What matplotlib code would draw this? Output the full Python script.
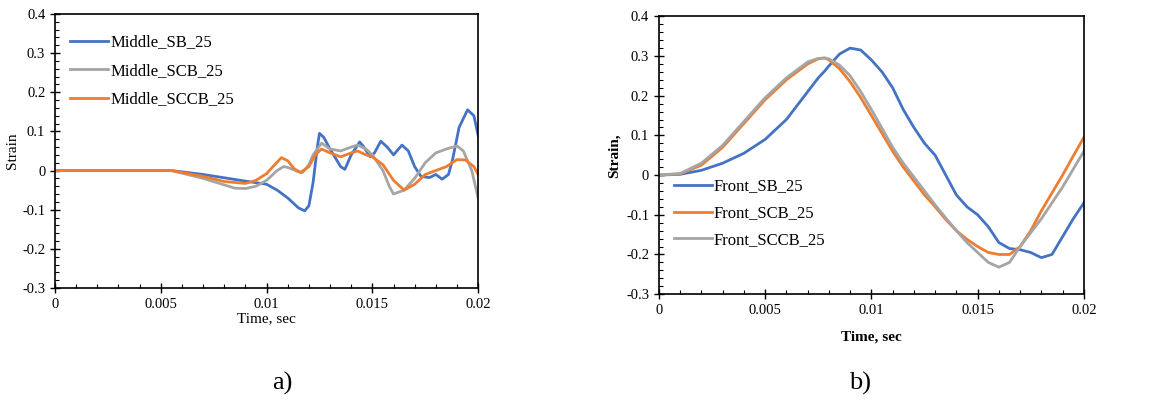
import matplotlib
matplotlib.use("Agg")
import matplotlib.pyplot as plt
from matplotlib.ticker import MultipleLocator

plt.rcParams['font.family'] = ['Liberation Serif', 'DejaVu Serif']

BLUE = '#4472C4'
ORANGE = '#ED7D31'
GRAY = '#A5A5A5'

# ---- panel a) middle strain ----
t_sb_m = [0, 0.0055, 0.007, 0.009, 0.010, 0.0105, 0.011, 0.0115, 0.0118, 0.012, 0.0122,
          0.0124, 0.0125, 0.0127, 0.013, 0.0135, 0.0137, 0.014, 0.0144, 0.0146, 0.0149,
          0.0151, 0.0154, 0.0157, 0.016, 0.0164, 0.0167, 0.017, 0.0173, 0.0177, 0.018,
          0.0183, 0.0186, 0.0188, 0.0191, 0.0195, 0.0198, 0.020]
v_sb_m = [0, 0, -0.01, -0.027, -0.035, -0.05, -0.07, -0.095, -0.103, -0.09, -0.03,
          0.06, 0.095, 0.085, 0.055, 0.01, 0.003, 0.04, 0.073, 0.06, 0.035,
          0.045, 0.075, 0.06, 0.04, 0.065, 0.05, 0.01, -0.015, -0.018, -0.01,
          -0.022, -0.01, 0.03, 0.11, 0.155, 0.14, 0.09]

t_scb_m = [0, 0.0055, 0.007, 0.0085, 0.009, 0.0095, 0.010, 0.0105, 0.0108, 0.011, 0.0115,
           0.0117, 0.012, 0.0122, 0.0126, 0.013, 0.0135, 0.014, 0.0143, 0.0147, 0.015,
           0.0155, 0.0158, 0.016, 0.0165, 0.017, 0.0175, 0.018, 0.0185, 0.019, 0.0193,
           0.0197, 0.020]
v_scb_m = [0, 0, -0.02, -0.045, -0.046, -0.04, -0.025, 0.0, 0.01, 0.008, -0.003,
           -0.005, 0.015, 0.04, 0.07, 0.055, 0.05, 0.06, 0.065, 0.055, 0.04,
           0.0, -0.04, -0.06, -0.05, -0.02, 0.02, 0.045, 0.055, 0.063, 0.05,
           0.0, -0.07]

t_sccb_m = [0, 0.0055, 0.007, 0.008, 0.009, 0.0095, 0.010, 0.0103, 0.0107, 0.011, 0.0113,
            0.0116, 0.012, 0.0123, 0.0126, 0.013, 0.0135, 0.014, 0.0143, 0.0147, 0.015,
            0.0155, 0.016, 0.0165, 0.017, 0.0175, 0.018, 0.0185, 0.019, 0.0194, 0.0198,
            0.020]
v_sccb_m = [0, 0, -0.015, -0.028, -0.033, -0.025, -0.008, 0.01, 0.033, 0.025, 0.005,
            -0.005, 0.01, 0.04, 0.055, 0.045, 0.035, 0.045, 0.05, 0.04, 0.035,
            0.015, -0.025, -0.05, -0.035, -0.01, 0.0, 0.01, 0.028, 0.027, 0.01,
            -0.01]

# ---- panel b) front strain ----
t_front = [0, 0.001, 0.002, 0.003, 0.004, 0.005, 0.006, 0.007, 0.0075, 0.0078, 0.008,
           0.0085, 0.009, 0.0095, 0.010, 0.0105, 0.011, 0.0115, 0.012, 0.0125, 0.013,
           0.0135, 0.014, 0.0145, 0.015, 0.0155, 0.016, 0.0165, 0.017, 0.0175, 0.018,
           0.0185, 0.019, 0.0195, 0.020]
v_sb_f = [0, 0.002, 0.012, 0.03, 0.055, 0.09, 0.14, 0.21, 0.245, 0.262, 0.275,
          0.305, 0.32, 0.315, 0.29, 0.26, 0.22, 0.165, 0.12, 0.08, 0.05,
          0.0, -0.05, -0.08, -0.1, -0.13, -0.17, -0.185, -0.188, -0.195, -0.208,
          -0.2, -0.155, -0.11, -0.07]
v_scb_f = [0, 0.003, 0.025, 0.07, 0.13, 0.19, 0.24, 0.28, 0.293, 0.295, 0.29,
           0.268, 0.235, 0.195, 0.15, 0.105, 0.06, 0.02, -0.015, -0.05, -0.08,
           -0.112, -0.14, -0.162, -0.18, -0.195, -0.2, -0.2, -0.18, -0.14, -0.09,
           -0.045, 0.0, 0.048, 0.095]
v_sccb_f = [0, 0.004, 0.03, 0.075, 0.135, 0.195, 0.245, 0.285, 0.294, 0.295, 0.293,
            0.277, 0.25, 0.21, 0.165, 0.118, 0.07, 0.03, -0.005, -0.04, -0.075,
            -0.108, -0.14, -0.17, -0.195, -0.22, -0.232, -0.22, -0.18, -0.145, -0.11,
            -0.07, -0.03, 0.015, 0.06]

xticks = [0, 0.005, 0.01, 0.015, 0.02]
xticklabels = ['0', '0.005', '0.01', '0.015', '0.02']
yticks = [-0.3, -0.2, -0.1, 0, 0.1, 0.2, 0.3, 0.4]
yticklabels = ['-0.3', '-0.2', '-0.1', '0', '0.1', '0.2', '0.3', '0.4']

fig = plt.figure(figsize=(11.56, 4.08), dpi=100)
ax1 = fig.add_axes([0.0476, 0.294, 0.366, 0.672])
ax2 = fig.add_axes([0.570, 0.279, 0.3676, 0.681])


def style(ax):
    ax.set_xlim(0, 0.02)
    ax.set_ylim(-0.3, 0.4)
    ax.set_xticks(xticks)
    ax.set_xticklabels(xticklabels)
    ax.set_yticks(yticks)
    ax.set_yticklabels(yticklabels)
    ax.xaxis.set_minor_locator(MultipleLocator(0.001))
    ax.yaxis.set_minor_locator(MultipleLocator(0.02))
    ax.tick_params(which='major', direction='inout', length=7, width=1, labelsize=10.5)
    ax.tick_params(which='minor', direction='in', length=3, width=0.8)
    for s in ax.spines.values():
        s.set_linewidth(1.2)
        s.set_color('black')


lw = 2.0
ax1.plot(t_sb_m, v_sb_m, color=BLUE, lw=lw, label='Middle_SB_25')
ax1.plot(t_scb_m, v_scb_m, color=GRAY, lw=lw, label='Middle_SCB_25')
ax1.plot(t_sccb_m, v_sccb_m, color=ORANGE, lw=lw, label='Middle_SCCB_25')
style(ax1)
ax1.set_xlabel('Time, sec', fontsize=11, labelpad=1)
ax1.set_ylabel('Strain', fontsize=11, labelpad=2)
ax1.legend(loc='upper left', frameon=False, fontsize=12, handlelength=2.3,
           handletextpad=0.1, labelspacing=0.75, bbox_to_anchor=(0.0, 0.98))

ax2.plot(t_front, v_sb_f, color=BLUE, lw=lw, label='Front_SB_25')
ax2.plot(t_front, v_scb_f, color=ORANGE, lw=lw, label='Front_SCB_25')
ax2.plot(t_front, v_sccb_f, color=GRAY, lw=lw, label='Front_SCCB_25')
style(ax2)
ax2.set_xlabel('Time, sec', fontsize=11, fontweight='bold', labelpad=10)
ax2.set_ylabel('Strain,', fontsize=11, fontweight='bold', labelpad=4)
ax2.legend(loc='upper left', frameon=False, fontsize=12, handlelength=2.3,
           handletextpad=0.1, labelspacing=0.65, bbox_to_anchor=(0.0, 0.47))

fig.text(0.244, 0.045, 'a)', fontsize=19, ha='center')
fig.text(0.744, 0.045, 'b)', fontsize=19, ha='center')

fig.savefig('out.png', dpi=100, facecolor='white')
